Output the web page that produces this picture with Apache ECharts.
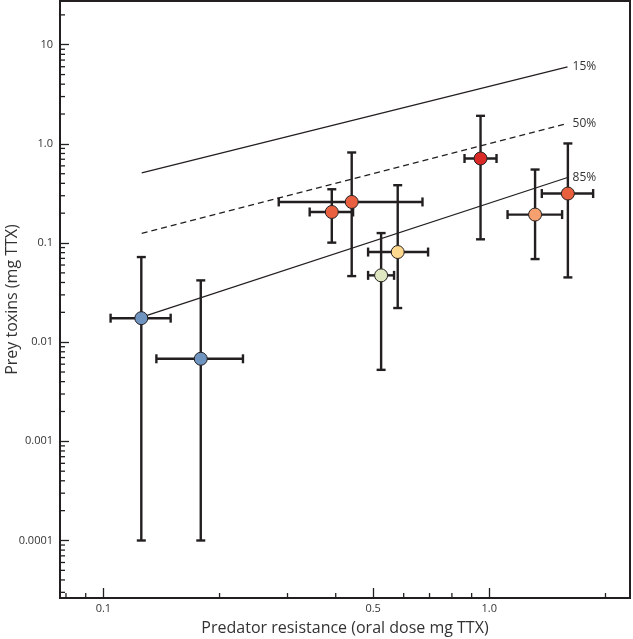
<!DOCTYPE html>
<html><head><meta charset="utf-8">
<script src="https://cdn.jsdelivr.net/npm/echarts@6/dist/echarts.min.js"></script>
<style>html,body{margin:0;padding:0;background:#fff}#c{width:633px;height:639px}</style>
</head><body><div id="c"></div>
<script>
// data (mg TTX)
const xValues = [0.1254, 0.1788, 0.3907, 0.440, 0.579, 0.5244, 0.949, 1.314, 1.598];
const xLow    = [0.1044, 0.1372, 0.3424, 0.2847, 0.4852, 0.4852, 0.8625, 1.115, 1.368];
const xHigh   = [0.1494, 0.230, 0.4436, 0.6712, 0.694, 0.5665, 1.044, 1.544, 1.858];
const yValues = [0.01746, 0.0068, 0.2056, 0.2596, 0.0811, 0.0472, 0.712, 0.1936, 0.3155];
const yLow    = [0.0001, 0.0001, 0.1009, 0.0464, 0.0221, 0.00526, 0.109, 0.0689, 0.045];
const yHigh   = [0.0722, 0.042, 0.3486, 0.8187, 0.383, 0.126, 1.918, 0.551, 1.01];
const pointColors = ['#6f94c0', '#6f94c0', '#e8603f', '#e8603f', '#fcd98e', '#dfe6c2', '#d92a27', '#f5a06e', '#e9603f'];

const lineNames = ['15%', '50%', '85%'];
const lineX = [0.1257, 1.595];
const line15 = [0.509, 5.99];
const line50 = [0.125, 1.607];
const line85 = [0.0179, 0.458];

const xTickValues = [0.1, 0.5, 1.0];
const xTickLabels = ['0.1', '0.5', '1.0'];
const yTickValues = [0.0001, 0.001, 0.01, 0.1, 1, 10];
const yTickLabels = ['0.0001', '0.001', '0.01', '0.1', '1.0', '10'];
const xMinorTicks = [0.08, 0.09, 0.2, 0.3, 0.4, 0.6, 0.7, 0.8, 0.9, 2];
const yMinorTicks = [
  3e-5, 4e-5, 5e-5, 6e-5, 7e-5, 8e-5, 9e-5,
  2e-4, 3e-4, 4e-4, 5e-4, 6e-4, 7e-4, 8e-4, 9e-4,
  0.002, 0.003, 0.004, 0.005, 0.006, 0.007, 0.008, 0.009,
  0.02, 0.03, 0.04, 0.05, 0.06, 0.07, 0.08, 0.09,
  0.2, 0.3, 0.4, 0.5, 0.6, 0.7, 0.8, 0.9,
  2, 3, 4, 5, 6, 7, 8, 9, 20
];

const xMin = 0.0772, xMax = 2.315;
const yMin = 2.63e-5, yMax = 27.6;
const gridLeft = 60, gridRight = 3, gridTop = 1, gridBottom = 41;

function lookup(vals, labels) {
  return function (v) {
    for (let i = 0; i < vals.length; i++) {
      if (Math.abs(Math.log(v) - Math.log(vals[i])) < 0.02) return labels[i];
    }
    return '';
  };
}

const ink = '#231f20';
const font = 'Open Sans';

const pointData = xValues.map((x, i) => ({ value: [x, yValues[i]], itemStyle: { color: pointColors[i] } }));
const barData = xValues.map((x, i) => [x, yValues[i], xLow[i], xHigh[i], yLow[i], yHigh[i]]);
// minor tick rows: [x, y, kind]; the unused coordinate is an in-range placeholder
const minorData = xMinorTicks.map(v => [v, 1, 1]).concat(yMinorTicks.map(v => [1, v, 2]));

function lineSeries(name, ys, dashed) {
  return {
    type: 'line', name: name, data: [[lineX[0], ys[0]], [lineX[1], ys[1]]],
    showSymbol: false, symbol: 'none', silent: true, z: 2,
    lineStyle: { color: ink, width: 1.3, type: dashed ? [6, 4] : 'solid' },
    endLabel: { show: true, formatter: name, color: '#333', fontSize: 12, fontFamily: font, distance: 5 },
    animation: false
  };
}

const chart = echarts.init(document.getElementById('c'), null, { renderer: 'canvas' });
chart.setOption({
  animation: false,
  grid: { left: gridLeft, right: gridRight, top: gridTop, bottom: gridBottom, show: true, borderColor: ink, borderWidth: 2, containLabel: false, outerBoundsMode: 'none' },
  xAxis: {
    type: 'log', logBase: 10, min: xMin, max: xMax, splitLine: { show: false },
    name: 'Predator resistance (oral dose mg TTX)', nameLocation: 'middle', nameGap: 22, nameMoveOverlap: false,
    nameTextStyle: { fontSize: 16, color: '#333', fontFamily: font },
    axisLine: { show: true, lineStyle: { color: ink, width: 2 } },
    axisTick: { show: true, inside: true, length: 10, lineStyle: { color: ink, width: 1.3 }, customValues: xTickValues },
    axisLabel: { show: true, margin: 5, fontSize: 11, color: '#333', fontFamily: font, customValues: xTickValues, formatter: lookup(xTickValues, xTickLabels) }
  },
  yAxis: {
    type: 'log', logBase: 10, min: yMin, max: yMax, splitLine: { show: false },
    name: 'Prey toxins (mg TTX)', nameLocation: 'middle', nameGap: 40, nameMoveOverlap: false,
    nameTextStyle: { fontSize: 16, color: '#333', fontFamily: font },
    axisLine: { show: true, lineStyle: { color: ink, width: 2 } },
    axisTick: { show: true, inside: true, length: 9, lineStyle: { color: ink, width: 1.3 }, customValues: yTickValues },
    axisLabel: { show: true, margin: 7, fontSize: 11, color: '#333', fontFamily: font, customValues: yTickValues, formatter: lookup(yTickValues, yTickLabels) }
  },
  series: [
    lineSeries(lineNames[0], line15, false),
    lineSeries(lineNames[1], line50, true),
    lineSeries(lineNames[2], line85, false),
    {
      type: 'custom', z: 5, silent: true,
      data: minorData, encode: { x: 0, y: 1 },
      renderItem: function (params, api) {
        const p = api.coord([api.value(0), api.value(1)]);
        const kind = api.value(2);
        let shape;
        if (kind > 1.5) {
          const x0 = gridLeft;
          shape = { x1: x0, y1: p[1], x2: x0 + 5, y2: p[1] };
        } else {
          const y0 = api.getHeight() - gridBottom;
          shape = { x1: p[0], y1: y0, x2: p[0], y2: y0 - 5 };
        }
        return {
          type: 'group',
          children: [{ type: 'line', shape: shape, style: { stroke: ink, lineWidth: 1.3, fill: null } }]
        };
      }
    },
    {
      type: 'custom', z: 3, silent: true,
      data: barData, encode: { x: 0, y: 1 },
      renderItem: function (params, api) {
        const x = api.value(0), y = api.value(1);
        const l = api.coord([api.value(2), y]);
        const r = api.coord([api.value(3), y]);
        const b = api.coord([x, api.value(4)]);
        const t = api.coord([x, api.value(5)]);
        const cap = 4.5;
        const st = { stroke: ink, lineWidth: 2.4, fill: null };
        const mk = (x1, y1, x2, y2) => ({ type: 'line', shape: { x1, y1, x2, y2 }, style: st });
        return {
          type: 'group',
          children: [
            mk(l[0], l[1], r[0], r[1]),
            mk(l[0], l[1] - cap, l[0], l[1] + cap),
            mk(r[0], r[1] - cap, r[0], r[1] + cap),
            mk(t[0], t[1], b[0], b[1]),
            mk(t[0] - cap, t[1], t[0] + cap, t[1]),
            mk(b[0] - cap, b[1], b[0] + cap, b[1])
          ]
        };
      }
    },
    {
      type: 'scatter', z: 4, silent: true,
      symbol: 'circle', symbolSize: 13,
      itemStyle: { borderColor: ink, borderWidth: 1, opacity: 1 },
      data: pointData
    }
  ]
});
</script>
</body></html>
